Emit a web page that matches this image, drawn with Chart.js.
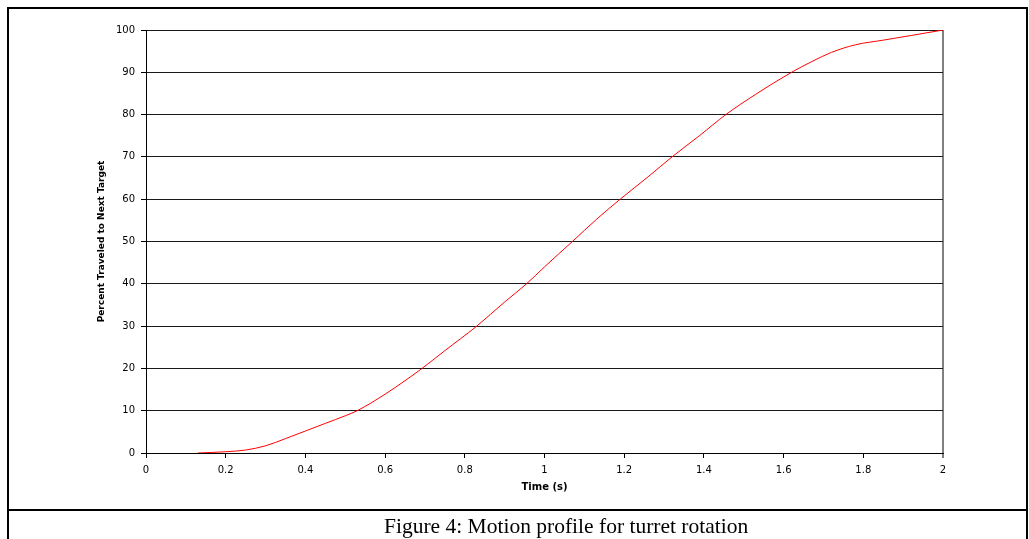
<!DOCTYPE html>
<html>
<head>
<meta charset="utf-8">
<script src="https://cdn.jsdelivr.net/npm/chart.js@4.4.1/dist/chart.umd.min.js"></script>
<style>
  html, body { margin: 0; padding: 0; background: #fff; }
  #wrap { position: relative; width: 1029px; height: 539px; overflow: hidden; background: #fff; }
  #c { position: absolute; left: 0; top: 0; }
  .ln { position: absolute; background: #000; }
  #caption { position: absolute; left: 384px; top: 512px; white-space: nowrap;
    font-family: "Liberation Serif", "Times New Roman", serif; font-size: 21.5px; line-height: 28px; color: #000; }
</style>
</head>
<body>
<div id="wrap">
  <canvas id="c" width="1029" height="539"></canvas>
  <div class="ln" style="left:7px;top:7px;width:1021px;height:2px"></div>
  <div class="ln" style="left:7px;top:7px;width:2px;height:532px"></div>
  <div class="ln" style="left:1026px;top:7px;width:2px;height:532px"></div>
  <div class="ln" style="left:7px;top:509px;width:1021px;height:2px"></div>
  <div id="caption">Figure 4: Motion profile for turret rotation</div>
</div>
<script>
// Data
const timeValues = [0.13, 0.2, 0.25, 0.3, 0.35, 0.4, 0.45, 0.5, 0.53, 0.6, 0.65, 0.69, 0.75, 0.83, 0.9, 0.955, 1.0, 1.07, 1.13, 1.19, 1.26, 1.32, 1.39, 1.455, 1.53, 1.62, 1.67, 1.72, 1.78, 1.85, 1.92, 2.0];
const percentValues = [0, 0.3, 0.7, 1.7, 3.4, 5.2, 7.0, 8.8, 10, 13.9, 17.1, 19.8, 24.2, 30, 35.7, 40, 44, 50, 55.2, 60, 65.3, 70, 75.1, 80, 84.8, 90, 92.5, 94.7, 96.5, 97.6, 98.7, 100];
const xTicks = [0, 0.2, 0.4, 0.6, 0.8, 1, 1.2, 1.4, 1.6, 1.8, 2];
const xTickLabels = ['0', '0.2', '0.4', '0.6', '0.8', '1', '1.2', '1.4', '1.6', '1.8', '2'];
const yTicks = [0, 10, 20, 30, 40, 50, 60, 70, 80, 90, 100];
const yTickLabels = ['0', '10', '20', '30', '40', '50', '60', '70', '80', '90', '100'];
const xTitle = 'Time (s)';
const yTitle = 'Percent Traveled to Next Target';

const points = timeValues.map((t, i) => ({ x: t, y: percentValues[i] }));

new Chart(document.getElementById('c'), {
  type: 'scatter',
  data: {
    datasets: [{
      data: points,
      showLine: true,
      borderColor: '#ff0000',
      borderWidth: 1,
      pointRadius: 0,
      cubicInterpolationMode: 'monotone',
      fill: false
    }]
  },
  options: {
    responsive: false,
    devicePixelRatio: 1,
    animation: false,
    layout: { padding: { left: 90, top: 30, right: 86, bottom: 43 } },
    plugins: { legend: { display: false }, tooltip: { enabled: false } },
    scales: {
      x: {
        type: 'linear', min: 0, max: 2,
        afterBuildTicks: s => { s.ticks = xTicks.map(v => ({ value: v })); },
        afterFit: s => { s.height = 43; },
        ticks: {
          autoSkip: false, maxRotation: 0, padding: 6, color: '#000',
          font: { family: 'DejaVu Sans', size: 10 },
          callback: (v) => { const i = xTicks.indexOf(v); return i >= 0 ? xTickLabels[i] : ''; }
        },
        grid: {
          drawOnChartArea: true,
          color: c => (c.tick && c.tick.value === 2) ? '#808080' : 'rgba(0,0,0,0)',
          lineWidth: c => (c.tick && c.tick.value === 2) ? 2 : 1,
          tickColor: '#000', tickLength: 5, tickWidth: 1
        },
        border: { display: true, color: '#000', width: 1 },
        title: {
          display: true, text: xTitle, color: '#000',
          font: { family: 'DejaVu Sans', size: 10, weight: 'bold' },
          padding: { top: 0, bottom: 3 }
        }
      },
      y: {
        type: 'linear', min: 0, max: 100,
        afterBuildTicks: s => { s.ticks = yTicks.map(v => ({ value: v })); },
        afterFit: s => { s.width = 56; },
        ticks: {
          autoSkip: false, padding: 6, color: '#000',
          font: { family: 'DejaVu Sans', size: 10 },
          callback: (v) => { const i = yTicks.indexOf(v); return i >= 0 ? yTickLabels[i] : ''; }
        },
        grid: {
          color: '#1a1a1a', lineWidth: 1,
          tickColor: '#000', tickLength: 5
        },
        border: { display: true, color: '#000', width: 1 },
        title: {
          display: true, text: yTitle, color: '#000',
          font: { family: 'DejaVu Sans', size: 9, weight: 'bold' },
          padding: { top: 6, bottom: 0 }
        }
      }
    }
  }
});
</script>
</body>
</html>
